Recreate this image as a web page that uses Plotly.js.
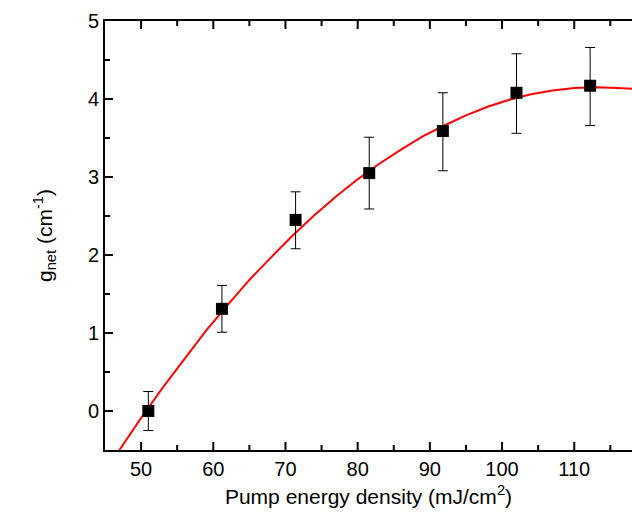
<!DOCTYPE html>
<html><head><meta charset="utf-8">
<script src="https://cdn.plot.ly/plotly-3.0.1.min.js"></script>
<style>html,body{margin:0;padding:0;background:#fff}</style>
</head><body>
<div id="chart" style="width:632px;height:519px"></div>
<script>
// Measured data points
const pumpDensity = [51.0, 61.2, 71.4, 81.6, 91.8, 102.0, 112.2];
const gNet = [0.00, 1.31, 2.45, 3.05, 3.59, 4.08, 4.17];
const errPlus = [0.25, 0.30, 0.36, 0.46, 0.49, 0.50, 0.49];
const errMinus = [0.25, 0.30, 0.37, 0.46, 0.51, 0.52, 0.51];
// Fit curve
const fitX = [47, 50, 53, 56, 59, 62, 65, 68, 71, 74, 77, 80, 83, 86, 89, 92, 95, 98, 101, 104, 107, 110, 113, 116, 118];
const fitY = [-0.50, -0.09, 0.30, 0.67, 1.03, 1.36, 1.68, 1.97, 2.25, 2.51, 2.75, 2.97, 3.17, 3.35, 3.52, 3.66, 3.79, 3.90, 3.99, 4.06, 4.11, 4.14, 4.15, 4.14, 4.13];
// Axis ranges and tick values
const xRange = [45, 118];
const yRange = [-0.5, 5];
const xMajorTicks = [50, 60, 70, 80, 90, 100, 110];
const xMinorTicks = [55, 65, 75, 85, 95, 105, 115];
const yMajorTicks = [0, 1, 2, 3, 4];
const yMinorTicks = [0.5, 1.5, 2.5, 3.5, 4.5];

const W = 632, H = 519, M = {l: 105, r: 0, t: 21, b: 69};
const plotW = W - M.l - M.r, plotH = H - M.t - M.b;
const xPx = px => px * (xRange[1] - xRange[0]) / plotW;
const yPx = px => px * (yRange[1] - yRange[0]) / plotH;

const tickFont = {family: 'Liberation Sans, Arial, sans-serif', size: 20, color: '#000'};
const titleFont = {family: 'Liberation Sans, Arial, sans-serif', size: 21, color: '#000'};

// Inside tick marks: short black line segments starting at the frame edges
function xTicks(vals, lenPx, atTop, xaxis) {
  const xs = [], ys = [];
  const y0 = atTop ? yRange[1] : yRange[0];
  const y1 = atTop ? yRange[1] - yPx(lenPx) : yRange[0] + yPx(lenPx);
  vals.forEach(v => { xs.push(v, v, null); ys.push(y0, y1, null); });
  return {x: xs, y: ys, xaxis: xaxis || 'x', mode: 'lines', type: 'scatter', hoverinfo: 'none',
          line: {color: '#000', width: 2}, cliponaxis: false};
}
function yTicks(vals, lenPx) {
  const xs = [], ys = [];
  vals.forEach(v => { xs.push(xRange[0], xRange[0] + xPx(lenPx), null); ys.push(v, v, null); });
  return {x: xs, y: ys, mode: 'lines', type: 'scatter', hoverinfo: 'none',
          line: {color: '#000', width: 2}, cliponaxis: false};
}
const traces = [
  // fit curve
  {x: fitX, y: fitY, mode: 'lines', type: 'scatter', line: {color: '#ff0000', width: 2}, hoverinfo: 'none'},
  // data with error bars
  {x: pumpDensity, y: gNet, mode: 'markers', type: 'scatter',
   marker: {symbol: 'square', size: 12, color: '#000'},
   error_y: {type: 'data', symmetric: false, array: errPlus, arrayminus: errMinus, color: '#000', thickness: 1, width: 5}},
  xTicks(xMajorTicks, 8, false), xTicks(xMinorTicks, 5, false),
  xTicks(xMajorTicks, 8, true, 'x2'), xTicks(xMinorTicks, 5, true, 'x2'),
  yTicks(yMajorTicks, 8), yTicks(yMinorTicks, 5)
];

const layout = {
  width: W, height: H,
  margin: M,
  paper_bgcolor: '#fff', plot_bgcolor: '#fff',
  showlegend: false,
  font: tickFont,
  xaxis: {
    range: xRange, tickvals: xMajorTicks,
    ticks: '', showline: true, linewidth: 2, linecolor: '#000',
    showgrid: false, zeroline: false,
    tickfont: tickFont,
    title: {text: 'Pump energy density (mJ/cm<sup>2</sup>)', font: titleFont, standoff: 10}
  },
  xaxis2: {
    range: xRange, overlaying: 'x', side: 'top', anchor: 'y',
    showline: true, linewidth: 2, linecolor: '#000',
    showticklabels: false, ticks: '', showgrid: false, zeroline: false
  },
  yaxis: {
    range: yRange, tickvals: [0, 1, 2, 3, 4, 5],
    ticks: '', showline: true, linewidth: 2, linecolor: '#000',
    showgrid: false, zeroline: false,
    tickfont: tickFont,
    title: {text: 'g<sub>net</sub> (cm<sup>-1</sup>)', font: titleFont, standoff: 30}
  }
};

Plotly.newPlot('chart', traces, layout, {displayModeBar: false, staticPlot: true});
</script>
</body></html>
